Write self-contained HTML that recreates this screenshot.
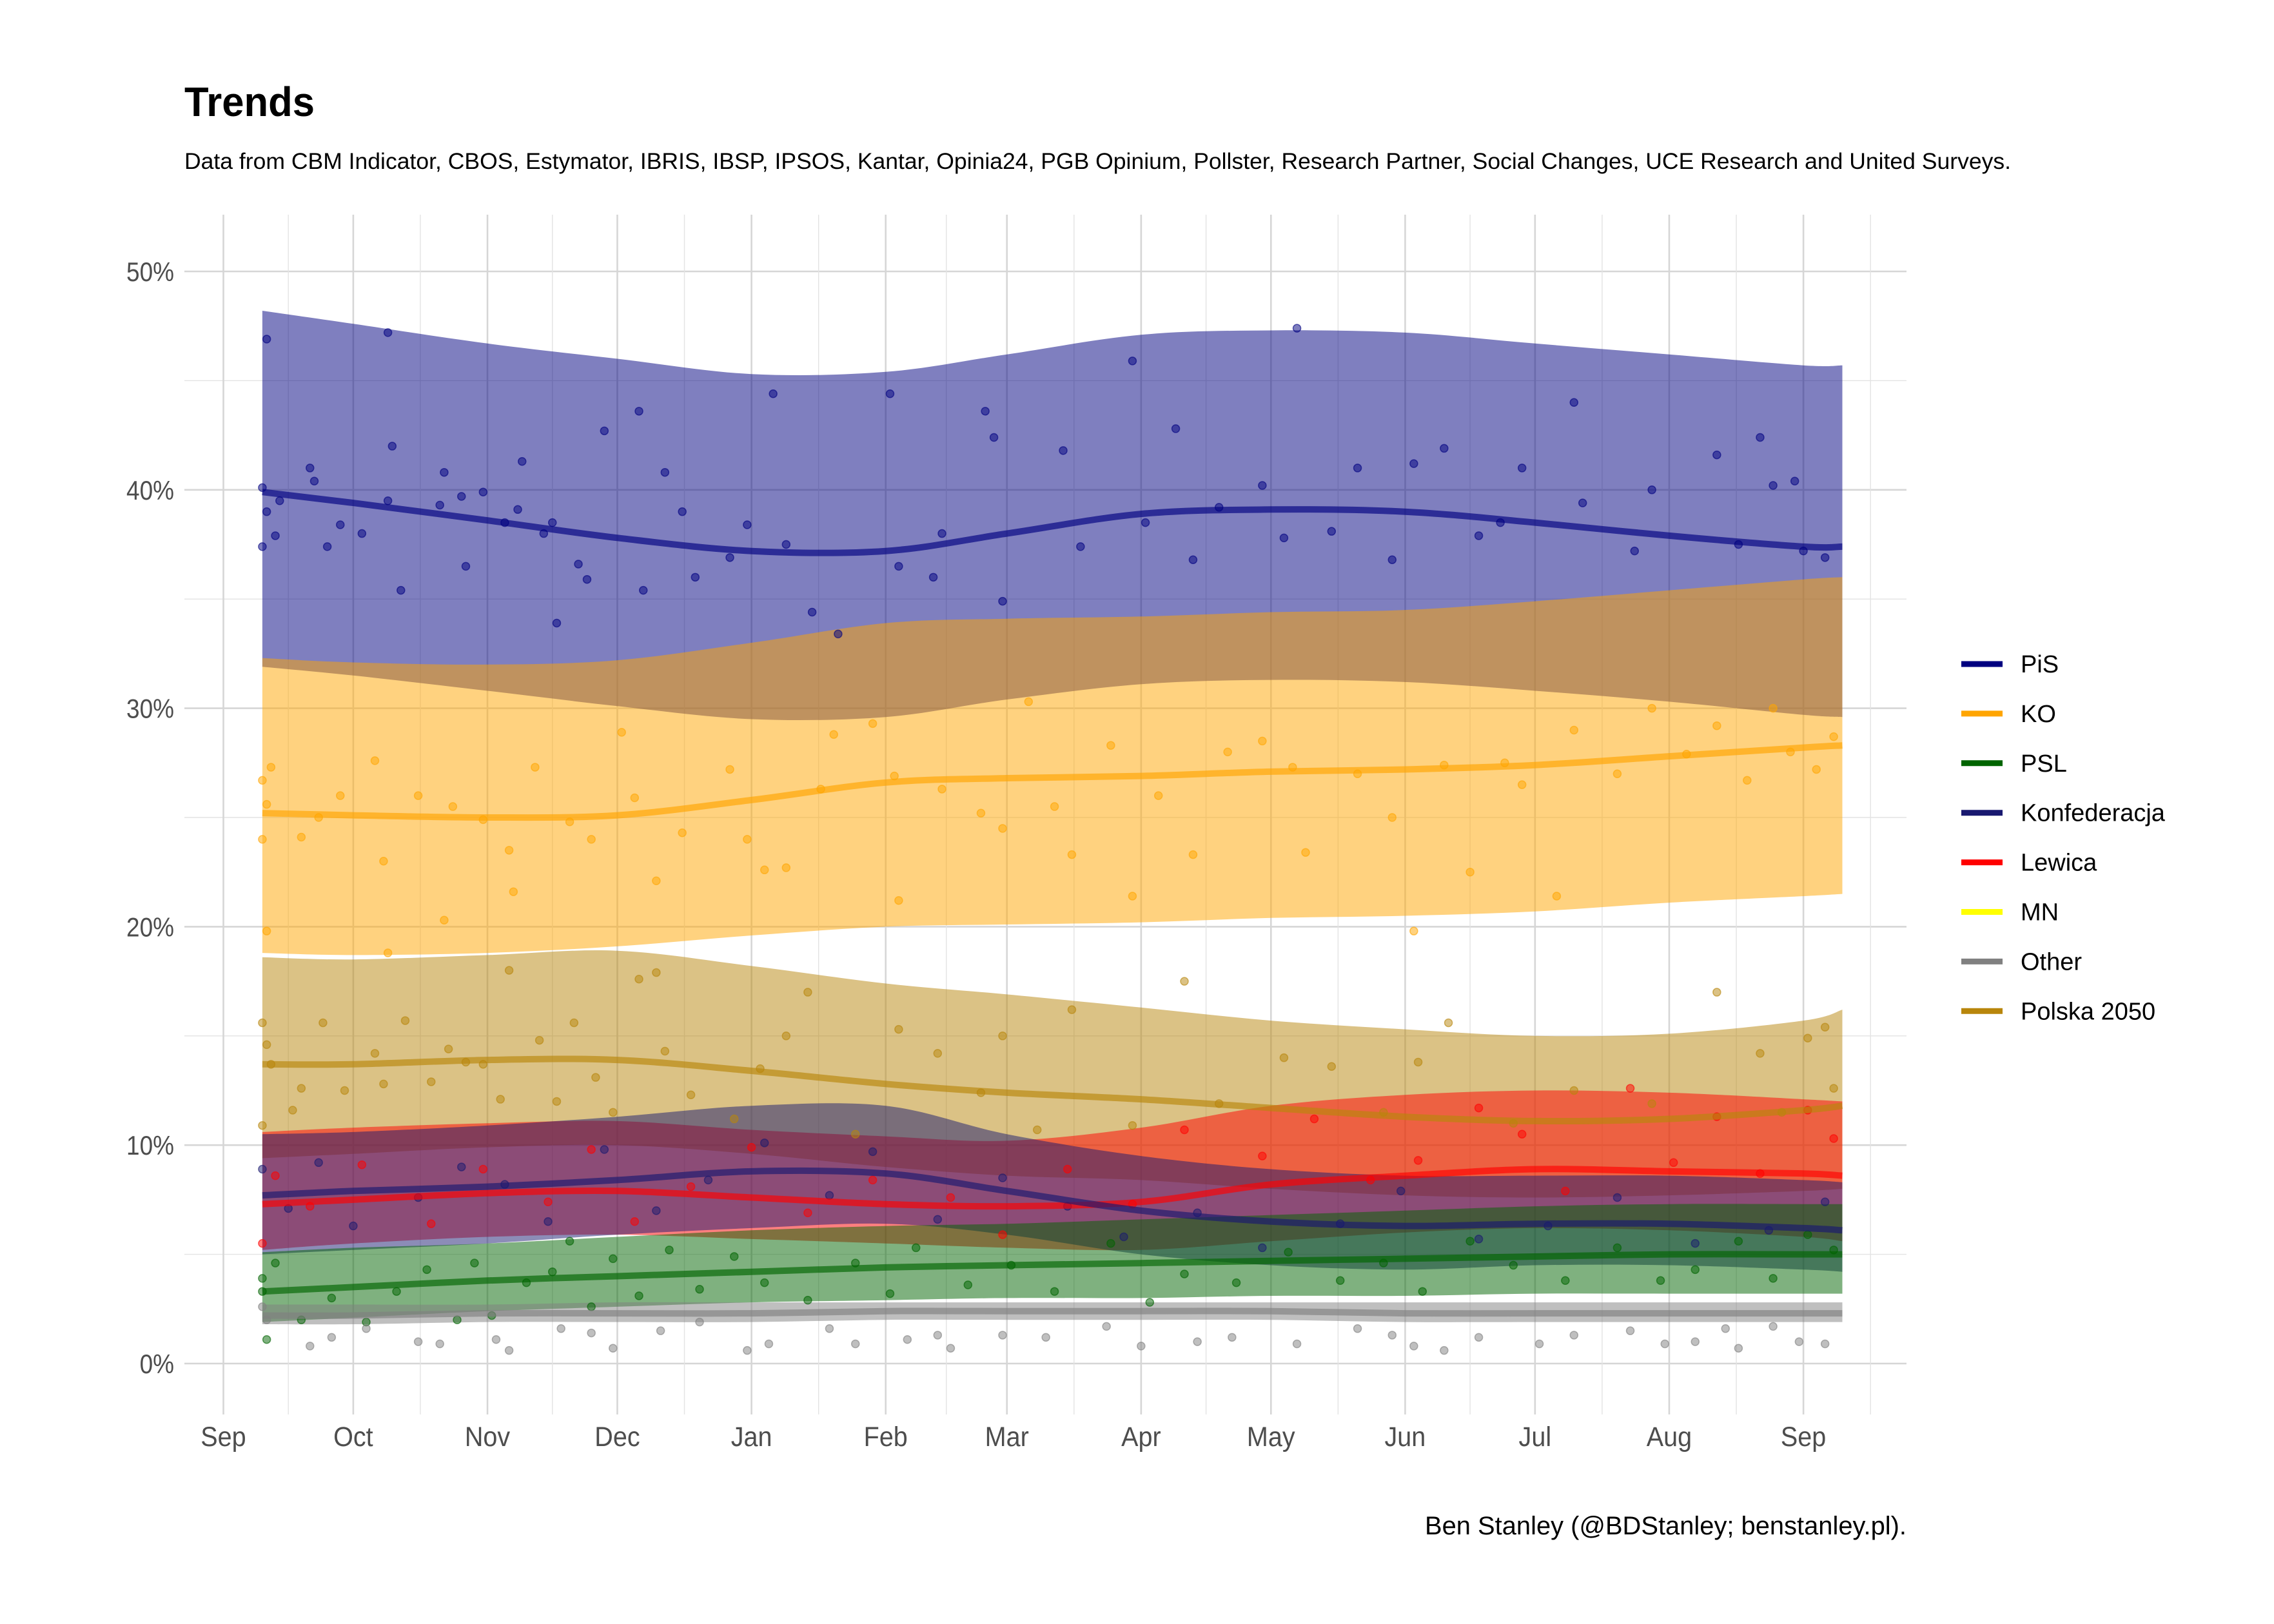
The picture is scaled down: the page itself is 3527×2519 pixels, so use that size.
<!DOCTYPE html>
<html><head><meta charset="utf-8"><title>Trends</title>
<style>
html,body{margin:0;padding:0;background:#fff;}
svg{display:block;font-family:"Liberation Sans",Arial,sans-serif;}
</style></head>
<body>
<svg id="chart" width="3527" height="2519" viewBox="0 0 3527 2519" xmlns="http://www.w3.org/2000/svg">
  <rect width="3527" height="2519" fill="#fff"/>
  <text x="286" y="180" font-size="64" font-weight="bold" fill="#000" textLength="202" lengthAdjust="spacingAndGlyphs">Trends</text>
  <text x="286" y="262" font-size="35" fill="#000" textLength="2833" lengthAdjust="spacingAndGlyphs">Data from CBM Indicator, CBOS, Estymator, IBRIS, IBSP, IPSOS, Kantar, Opinia24, PGB Opinium, Pollster, Research Partner, Social Changes, UCE Research and United Surveys.</text>
  <g id="grid"></g>
  <g id="bands"></g>
  <g id="points"></g>
  <g id="lines"></g>
  <g id="axes"></g>
  <g id="legend"></g>
  <text x="2957" y="2380" font-size="40" text-anchor="end" fill="#000" textLength="747" lengthAdjust="spacingAndGlyphs">Ben Stanley (@BDStanley; benstanley.pl).</text>
</svg>
<script>
// ---- data ----
const knotDays = [9,30,61,91,122,153,181,212,242,273,303,334,365,374];
const monthLabels = ["Sep","Oct","Nov","Dec","Jan","Feb","Mar","Apr","May","Jun","Jul","Aug","Sep"];
const monthDays = [0,30,61,91,122,153,181,212,242,273,303,334,365];
const yTicks = [0,10,20,30,40,50];
const yMinorTicks = [5,15,25,35,45];
const parties = ["PiS","KO","PSL","Konfederacja","Lewica","MN","Other","Polska 2050"];
const partyColors = ["#000080","#ffa500","#006400","#191970","#ff0000","#ffff00","#808080","#b8860b"];

const pisLine  = [39.9,39.4,38.6,37.8,37.2,37.2,38.0,38.9,39.1,39.0,38.5,37.9,37.4,37.4];
const pisUpper = [48.2,47.6,46.7,46.0,45.3,45.4,46.2,47.1,47.3,47.2,46.7,46.2,45.7,45.7];
const pisLower = [31.9,31.5,30.8,30.1,29.5,29.6,30.4,31.1,31.3,31.2,30.8,30.3,29.7,29.6];

const koLine  = [25.2,25.1,25.0,25.1,25.8,26.6,26.8,26.9,27.1,27.2,27.4,27.8,28.2,28.3];
const koUpper = [32.3,32.1,32.0,32.2,33.0,33.9,34.1,34.2,34.4,34.5,34.9,35.4,35.9,36.0];
const koLower = [18.8,18.7,18.8,19.1,19.6,20.0,20.1,20.2,20.4,20.5,20.7,21.1,21.4,21.5];

const pslLine  = [3.3,3.5,3.8,4.0,4.2,4.4,4.5,4.6,4.7,4.8,4.9,5.0,5.0,5.0];
const pslUpper = [5.1,5.3,5.5,5.8,6.1,6.3,6.4,6.6,6.8,7.0,7.2,7.3,7.3,7.3];
const pslLower = [1.9,2.1,2.4,2.6,2.8,2.9,3.0,3.0,3.1,3.1,3.2,3.2,3.2,3.2];

const konfLine  = [7.7,7.9,8.1,8.4,8.8,8.7,7.9,7.0,6.5,6.3,6.4,6.4,6.2,6.1];
const konfUpper = [10.5,10.6,10.9,11.3,11.8,11.8,10.5,9.5,8.9,8.6,8.6,8.6,8.4,8.3];
const konfLower = [5.0,5.2,5.5,5.9,6.2,6.4,5.9,5.0,4.5,4.3,4.5,4.5,4.3,4.2];

const lewLine  = [7.3,7.5,7.8,7.9,7.6,7.3,7.2,7.4,8.2,8.6,8.9,8.8,8.7,8.6];
const lewUpper = [10.6,10.8,11.0,11.1,10.7,10.4,10.2,10.8,11.8,12.3,12.5,12.4,12.1,12.0];
const lewLower = [5.2,5.5,5.8,5.9,5.7,5.5,5.3,5.2,5.6,6.0,6.2,6.1,5.8,5.6];

const othLine  = [2.2,2.2,2.3,2.3,2.3,2.4,2.4,2.4,2.4,2.3,2.3,2.3,2.3,2.3];
const othUpper = [2.7,2.7,2.7,2.8,2.8,2.8,2.8,2.8,2.8,2.8,2.8,2.8,2.8,2.8];
const othLower = [1.8,1.8,1.9,1.9,1.9,2.0,2.0,2.0,2.0,1.9,1.9,1.9,1.9,1.9];

const p2050Line  = [13.7,13.7,13.9,13.9,13.4,12.8,12.4,12.1,11.7,11.3,11.1,11.2,11.6,11.8];
const p2050Upper = [18.6,18.5,18.7,18.9,18.2,17.4,16.9,16.3,15.7,15.3,15.0,15.1,15.7,16.2];
const p2050Lower = [9.4,9.6,9.9,10.0,9.6,9.0,8.6,8.4,8.0,7.7,7.6,7.7,7.9,8.0];

const pisPoints = [[9,40.1],[9,37.4],[10,46.9],[10,39],[12,37.9],[13,39.5],[20,41],[21,40.4],[24,37.4],[27,38.4],[32,38],[38,39.5],[38,47.2],[39,42],[41,35.4],[50,39.3],[51,40.8],[55,39.7],[56,36.5],[60,39.9],[65,38.5],[68,39.1],[69,41.3],[74,38],[76,38.5],[77,33.9],[82,36.6],[84,35.9],[88,42.7],[96,43.6],[97,35.4],[102,40.8],[106,39],[109,36],[117,36.9],[121,38.4],[127,44.4],[130,37.5],[136,34.4],[142,33.4],[154,44.4],[156,36.5],[164,36],[166,38],[176,43.6],[178,42.4],[180,34.9],[194,41.8],[198,37.4],[210,45.9],[213,38.5],[220,42.8],[224,36.8],[230,39.2],[240,40.2],[245,37.8],[248,47.4],[256,38.1],[262,41],[270,36.8],[275,41.2],[282,41.9],[290,37.9],[295,38.5],[300,41],[312,44],[314,39.4],[326,37.2],[330,40],[345,41.6],[350,37.5],[355,42.4],[358,40.2],[365,37.2],[370,36.9],[363,40.4]];
const koPoints = [[9,24],[9,26.7],[10,25.6],[10,19.8],[11,27.3],[18,24.1],[22,25],[27,26],[35,27.6],[37,23],[38,18.8],[45,26],[51,20.3],[53,25.5],[60,24.9],[66,23.5],[67,21.6],[72,27.3],[80,24.8],[85,24],[92,28.9],[95,25.9],[100,22.1],[106,24.3],[117,27.2],[121,24],[125,22.6],[130,22.7],[138,26.3],[141,28.8],[150,29.3],[155,26.9],[156,21.2],[166,26.3],[175,25.2],[180,24.5],[186,30.3],[192,25.5],[196,23.3],[205,28.3],[210,21.4],[216,26],[224,23.3],[232,28],[240,28.5],[247,27.3],[250,23.4],[262,27],[270,25],[275,19.8],[282,27.4],[288,22.5],[296,27.5],[300,26.5],[308,21.4],[312,29],[322,27],[330,30],[338,27.9],[345,29.2],[352,26.7],[358,30],[362,28],[368,27.2],[372,28.7]];
const p2050Points = [[9,15.6],[9,10.9],[10,14.6],[11,13.7],[16,11.6],[18,12.6],[23,15.6],[28,12.5],[35,14.2],[37,12.8],[42,15.7],[48,12.9],[52,14.4],[56,13.8],[60,13.7],[64,12.1],[66,18],[73,14.8],[77,12],[81,15.6],[86,13.1],[90,11.5],[96,17.6],[100,17.9],[102,14.3],[108,12.3],[118,11.2],[124,13.5],[130,15],[135,17],[146,10.5],[156,15.3],[165,14.2],[175,12.4],[180,15],[188,10.7],[196,16.2],[210,10.9],[222,17.5],[230,11.9],[245,14],[256,13.6],[268,11.5],[276,13.8],[283,15.6],[298,11],[312,12.5],[330,11.9],[345,17],[355,14.2],[360,11.5],[366,14.9],[370,15.4],[372,12.6]];
const pslPoints = [[9,3.3],[9,3.9],[10,1.1],[12,4.6],[18,2.0],[25,3],[33,1.9],[40,3.3],[47,4.3],[54,2],[58,4.6],[62,2.2],[70,3.7],[76,4.2],[80,5.6],[85,2.6],[90,4.8],[96,3.1],[103,5.2],[110,3.4],[118,4.9],[125,3.7],[135,2.9],[146,4.6],[154,3.2],[160,5.3],[172,3.6],[182,4.5],[192,3.3],[205,5.5],[214,2.8],[222,4.1],[234,3.7],[246,5.1],[258,3.8],[268,4.6],[277,3.3],[288,5.6],[298,4.5],[310,3.8],[322,5.3],[332,3.8],[340,4.3],[350,5.6],[358,3.9],[366,5.9],[372,5.2]];
const konfPoints = [[9,8.9],[15,7.1],[22,9.2],[30,6.3],[45,7.6],[55,9],[65,8.2],[75,6.5],[88,9.8],[100,7],[112,8.4],[125,10.1],[140,7.7],[150,9.7],[165,6.6],[180,8.5],[195,7.2],[208,5.8],[225,6.9],[240,5.3],[258,6.4],[272,7.9],[290,5.7],[306,6.3],[322,7.6],[340,5.5],[357,6.1],[370,7.4]];
const lewPoints = [[9,5.5],[12,8.6],[20,7.2],[32,9.1],[48,6.4],[60,8.9],[75,7.4],[85,9.8],[95,6.5],[108,8.1],[122,9.9],[135,6.9],[150,8.4],[168,7.6],[180,5.9],[195,8.9],[210,7.3],[222,10.7],[240,9.5],[252,11.2],[265,8.4],[276,9.3],[290,11.7],[300,10.5],[310,7.9],[325,12.6],[335,9.2],[345,11.3],[355,8.7],[366,11.6],[372,10.3]];
const othPoints = [[9,2.6],[10,2.0],[20,0.8],[25,1.2],[33,1.6],[45,1.0],[50,0.9],[63,1.1],[66,0.6],[78,1.6],[85,1.4],[90,0.7],[101,1.5],[110,1.9],[121,0.6],[126,0.9],[140,1.6],[146,0.9],[158,1.1],[165,1.3],[168,0.7],[180,1.3],[190,1.2],[204,1.7],[212,0.8],[225,1.0],[233,1.2],[248,0.9],[262,1.6],[270,1.3],[275,0.8],[282,0.6],[290,1.2],[304,0.9],[312,1.3],[325,1.5],[333,0.9],[340,1.0],[347,1.6],[350,0.7],[358,1.7],[364,1.0],[370,0.9]];

// ---- scales ----
const X0 = 346.5, PX_PER_DAY = 6.714;
const Y0 = 2115, PX_PER_PCT = 33.88;
function xs(d){ return X0 + d*PX_PER_DAY; }
function ys(v){ return Y0 - v*PX_PER_PCT; }
const NS = "http://www.w3.org/2000/svg";
function mk(tag, attrs){ const e=document.createElementNS(NS,tag); for(const k in attrs) e.setAttribute(k,attrs[k]); return e; }

function smoothPath(days, vals, moveFirst){
  const p = days.map((d,i)=>[xs(d), ys(vals[i])]);
  let s = (moveFirst ? "M" : "L") + p[0][0].toFixed(1)+","+p[0][1].toFixed(1);
  for(let i=0;i<p.length-1;i++){
    const p0=p[i-1]||p[i], p1=p[i], p2=p[i+1], p3=p[i+2]||p2;
    const c1=[p1[0]+(p2[0]-p0[0])/6, p1[1]+(p2[1]-p0[1])/6];
    const c2=[p2[0]-(p3[0]-p1[0])/6, p2[1]-(p3[1]-p1[1])/6];
    s += " C"+c1[0].toFixed(1)+","+c1[1].toFixed(1)+" "+c2[0].toFixed(1)+","+c2[1].toFixed(1)+" "+p2[0].toFixed(1)+","+p2[1].toFixed(1);
  }
  return s;
}

// ---- grid ----
const grid = document.getElementById("grid");
const PL=286, PR=2957, PT=333, PB=2194;
yMinorTicks.forEach(v=>{
  const l = mk("line",{x1:PL,x2:PR,y1:ys(v),y2:ys(v),stroke:"#e3e3e3","stroke-width":1.4});
  
  
  grid.appendChild(l);
});
yTicks.forEach(v=>{
  const l = mk("line",{x1:PL,x2:PR,y1:ys(v),y2:ys(v),stroke:"#d6d6d6","stroke-width":2.6});
  
  
  grid.appendChild(l);
});
for(let i=0;i<monthDays.length;i++){
  const next = i<monthDays.length-1 ? monthDays[i+1] : monthDays[i]+31;
  const mid = (monthDays[i]+next)/2;
  const l = mk("line",{x1:xs(mid),x2:xs(mid),y1:PT,y2:PB,stroke:"#e3e3e3","stroke-width":1.4});
  
  
  grid.appendChild(l);
}
monthDays.forEach(d=>{
  const l = mk("line",{x1:xs(d),x2:xs(d),y1:PT,y2:PB,stroke:"#d6d6d6","stroke-width":2.6});
  
  
  grid.appendChild(l);
});

// ---- series ----
const series = [
  {name:"polska-2050", color:"#b8860b", line:p2050Line, up:p2050Upper, lo:p2050Lower, pts:p2050Points},
  {name:"lewica", color:"#ff0000", line:lewLine, up:lewUpper, lo:lewLower, pts:lewPoints},
  {name:"konfederacja", color:"#191970", line:konfLine, up:konfUpper, lo:konfLower, pts:konfPoints},
  {name:"psl", color:"#006400", line:pslLine, up:pslUpper, lo:pslLower, pts:pslPoints},
  {name:"other", color:"#808080", line:othLine, up:othUpper, lo:othLower, pts:othPoints},
  {name:"pis", color:"#000080", line:pisLine, up:pisUpper, lo:pisLower, pts:pisPoints},
  {name:"ko", color:"#ffa500", line:koLine, up:koUpper, lo:koLower, pts:koPoints}
];
const bands = document.getElementById("bands");
const ptsG = document.getElementById("points");
const linesG = document.getElementById("lines");
series.forEach(s=>{
  const rd = knotDays.slice().reverse();
  const d = smoothPath(knotDays, s.up, true) + " " + smoothPath(rd, s.lo.slice().reverse(), false) + " Z";
  const b = mk("path",{d:d, fill:s.color, "fill-opacity":0.5});
  
  
  bands.appendChild(b);
});
series.forEach(s=>{
  s.pts.forEach(p=>{
    const c = mk("circle",{cx:xs(p[0]),cy:ys(p[1]),r:6,fill:s.color,"fill-opacity":0.5,stroke:s.color,"stroke-opacity":0.6,"stroke-width":1.5});
    
    
    ptsG.appendChild(c);
  });
});
series.forEach(s=>{
  const l = mk("path",{d:smoothPath(knotDays, s.line, true), fill:"none", stroke:s.color, "stroke-opacity":0.65, "stroke-width":10, "stroke-linecap":"butt"});
  
  
  linesG.appendChild(l);
});

// ---- axes labels ----
const axes = document.getElementById("axes");
yTicks.forEach(v=>{
  const t = mk("text",{x:270,y:ys(v)+15,"font-size":42,"text-anchor":"end",fill:"#4d4d4d",transform:"translate(270,0) scale(0.88,1) translate(-270,0)"});
  t.textContent = v+"%";
  
  
  axes.appendChild(t);
});
monthLabels.forEach((m,i)=>{
  const cx = xs(monthDays[i]);
  const t = mk("text",{x:cx,y:2243,"font-size":43,"text-anchor":"middle",fill:"#4d4d4d",transform:"translate("+cx+",0) scale(0.92,1) translate("+(-cx)+",0)"});
  t.textContent = m;
  
  
  axes.appendChild(t);
});

// ---- legend ----
const leg = document.getElementById("legend");
parties.forEach((p,i)=>{
  const y = 1030 + i*76.9;
  const k = mk("line",{x1:3042,x2:3106,y1:y,y2:y,stroke:partyColors[i],"stroke-width":9});
  
  
  leg.appendChild(k);
  const t = mk("text",{x:3134,y:y+13,"font-size":38,fill:"#000"});
  t.textContent = p;
  
  
  leg.appendChild(t);
});
</script>
</body></html>
